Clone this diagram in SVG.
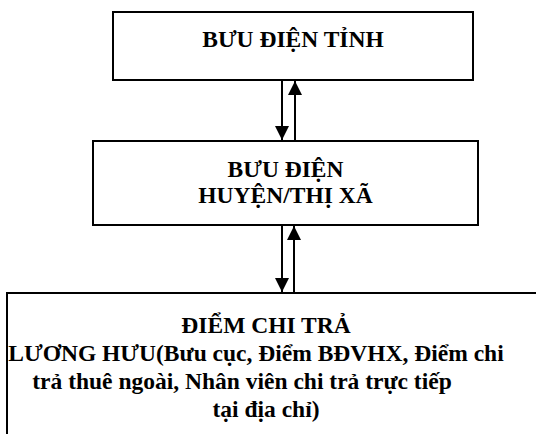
<svg xmlns="http://www.w3.org/2000/svg" width="536" height="434" viewBox="0 0 536 434">
<style>
.box{fill:#fff;stroke:#000;stroke-width:2}
.t{font-family:"Liberation Serif","Times New Roman",serif;font-weight:bold;font-size:23.5px;fill:#000;text-anchor:middle}
.c{stroke:#000;stroke-width:2;fill:none}
</style>
<defs>
<marker id="ah" markerUnits="userSpaceOnUse" markerWidth="14" markerHeight="16" refX="14" refY="7" orient="auto" viewBox="0 0 14 14">
<path d="M0,0 L14,7 L0,14 Z" fill="#000"/>
</marker>
</defs>
<rect width="536" height="434" fill="#fff"/>
<g id="node-tinh">
<rect class="box" x="113" y="12" width="360" height="68"/>
<text class="t" x="293" y="47">BƯU ĐIỆN TỈNH</text>
</g>
<g id="node-huyen">
<rect class="box" x="93" y="141" width="385" height="84"/>
<text class="t" x="285.5" y="177">BƯU ĐIỆN</text>
<text class="t" x="285.5" y="203">HUYỆN/THỊ XÃ</text>
</g>
<g id="node-diem">
<rect class="box" x="7" y="293" width="540" height="150"/>
<text class="t" x="266" y="333">ĐIỂM CHI TRẢ</text>
<text class="t" x="256" y="361">LƯƠNG HƯU(Bưu cục, Điểm BĐVHX, Điểm chi</text>
<text class="t" x="242" y="389">trả thuê ngoài, Nhân viên chi trả trực tiếp</text>
<text class="t" x="266" y="417">tại địa chỉ)</text>
</g>
<g id="connectors">
<line class="c" x1="282" y1="81" x2="282" y2="140" marker-end="url(#ah)"/>
<line class="c" x1="295" y1="140" x2="295" y2="81" marker-end="url(#ah)"/>
<line class="c" x1="282" y1="226" x2="282" y2="292" marker-end="url(#ah)"/>
<line class="c" x1="294" y1="292" x2="294" y2="226" marker-end="url(#ah)"/>
</g>
</svg>
